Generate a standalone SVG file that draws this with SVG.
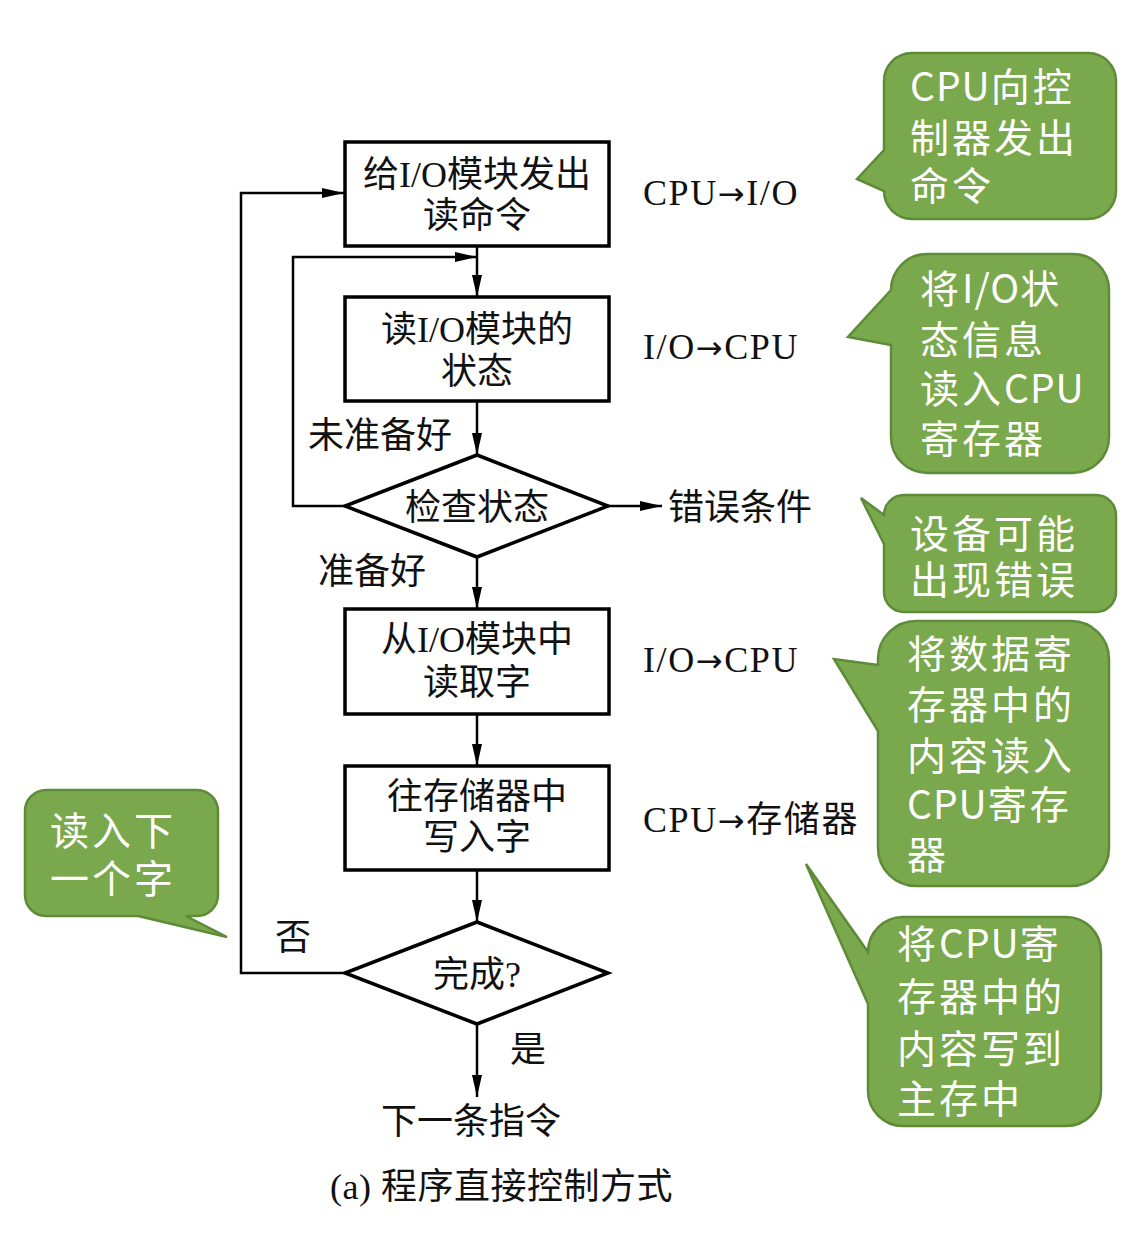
<svg xmlns="http://www.w3.org/2000/svg" width="1129" height="1236" viewBox="0 0 1129 1236">
<defs>
<marker id="ah" markerUnits="userSpaceOnUse" markerWidth="22" markerHeight="10" refX="22" refY="5" orient="auto">
<path d="M0,0 L22,5 L0,10 Z" fill="#000"/>
</marker>
<style>
.box{fill:#fff;stroke:#000;stroke-width:3.5}
.con{fill:none;stroke:#000;stroke-width:2.5}
.t{font-family:"Liberation Serif","Noto Sans CJK SC",serif;font-size:36px;fill:#111}
.tc{text-anchor:middle}
.ls{letter-spacing:1.6px}
.ar{font-family:"DejaVu Sans",sans-serif;font-size:32px}
.co{fill:#7aa84c;stroke:#5d8b37;stroke-width:2.5}
.ct{font-family:"Noto Sans CJK SC",sans-serif;font-size:39px;letter-spacing:3px;fill:#fff}
.cl{letter-spacing:1px}
</style>
</defs>
<rect width="1129" height="1236" fill="#fff"/>

<g id="connectors">
<path class="con" d="M345,973 H241 V193 H344" marker-end="url(#ah)"/>
<path class="con" d="M345,506 H293 V257 H477" marker-end="url(#ah)"/>
<path class="con" d="M477,246 V297" marker-end="url(#ah)"/>
<path class="con" d="M477,401 V455" marker-end="url(#ah)"/>
<path class="con" d="M608,506 H662" marker-end="url(#ah)"/>
<path class="con" d="M477,557 V609" marker-end="url(#ah)"/>
<path class="con" d="M477,714 V766" marker-end="url(#ah)"/>
<path class="con" d="M477,870 V922" marker-end="url(#ah)"/>
<path class="con" d="M477,1024 V1097" marker-end="url(#ah)"/>
</g>

<g id="n1"><rect class="box" x="345" y="142" width="264" height="104"/>
<text class="t tc" x="477" y="187">给I/O模块发出</text><text class="t tc" x="477" y="228">读命令</text></g>
<g id="n2"><rect class="box" x="345" y="297" width="264" height="104"/>
<text class="t tc" x="477" y="342">读I/O模块的</text><text class="t tc" x="477" y="384">状态</text></g>
<g id="n3"><polygon class="box" points="477,455 608,506 477,557 345,506"/>
<text class="t tc" x="477" y="520">检查状态</text></g>
<g id="n4"><rect class="box" x="345" y="609" width="264" height="105"/>
<text class="t tc" x="477" y="652">从I/O模块中</text><text class="t tc" x="477" y="695">读取字</text></g>
<g id="n5"><rect class="box" x="345" y="766" width="264" height="104"/>
<text class="t tc" x="477" y="809">往存储器中</text><text class="t tc" x="477" y="850">写入字</text></g>
<g id="n6"><polygon class="box" points="477,922 608,973 477,1024 345,973"/>
<text class="t tc" x="477" y="987">完成?</text></g>

<g id="labels">
<text class="t" x="308" y="448">未准备好</text>
<text class="t" x="318" y="584">准备好</text>
<text class="t" x="668" y="520">错误条件</text>
<text class="t" x="275" y="950">否</text>
<text class="t" x="510" y="1062">是</text>
<text class="t tc" x="471" y="1134">下一条指令</text>
<text class="t" x="330" y="1199" style="letter-spacing:0.5px">(a) 程序直接控制方式</text>
<text class="t ls" x="643" y="205">CPU<tspan class="ar">→</tspan>I/O</text>
<text class="t ls" x="643" y="359">I/O<tspan class="ar">→</tspan>CPU</text>
<text class="t ls" x="643" y="672">I/O<tspan class="ar">→</tspan>CPU</text>
<text class="t ls" x="643" y="832">CPU<tspan class="ar">→</tspan>存储器</text>
</g>

<g id="c1"><path class="co" d="M912,53 H1088 A28,28 0 0 1 1116,81 V191 A28,28 0 0 1 1088,219 H912 A28,28 0 0 1 884,191 L857,179 L884,150 V81 A28,28 0 0 1 912,53 Z"/>
<text class="ct" x="910" y="101"><tspan class="cl">CPU</tspan>向控</text><text class="ct" x="910" y="152">制器发出</text><text class="ct" x="910" y="200">命令</text></g>

<g id="c2"><path class="co" d="M927,254 H1073 A36,36 0 0 1 1109,290 V437 A36,36 0 0 1 1073,473 H927 A36,36 0 0 1 891,437 V345 L848,337 L891,290 A36,36 0 0 1 927,254 Z"/>
<text class="ct" x="920" y="303">将<tspan class="cl">I/O</tspan>状</text><text class="ct" x="920" y="354">态信息</text><text class="ct" x="920" y="403">读入<tspan class="cl">CPU</tspan></text><text class="ct" x="920" y="453">寄存器</text></g>

<g id="c3"><path class="co" d="M904,495 H1096 A20,20 0 0 1 1116,515 V592 A20,20 0 0 1 1096,612 H904 A20,20 0 0 1 884,592 V544 L861,498 L884,515 A20,20 0 0 1 904,495 Z"/>
<text class="ct" x="910" y="548">设备可能</text><text class="ct" x="910" y="594">出现错误</text></g>

<g id="c4"><path class="co" d="M916,621 H1071 A38,38 0 0 1 1109,659 V848 A38,38 0 0 1 1071,886 H916 A38,38 0 0 1 878,848 V731 L834,659 L878,665 V659 A38,38 0 0 1 916,621 Z"/>
<text class="ct" x="907" y="668">将数据寄</text><text class="ct" x="907" y="719">存器中的</text><text class="ct" x="907" y="770">内容读入</text><text class="ct" x="907" y="819"><tspan class="cl">CPU</tspan>寄存</text><text class="ct" x="907" y="869">器</text></g>

<g id="c5"><path class="co" d="M903,917 H1066 A35,35 0 0 1 1101,952 V1091 A35,35 0 0 1 1066,1126 H903 A35,35 0 0 1 868,1091 V1004 L806,864 L868,952 A35,35 0 0 1 903,917 Z"/>
<text class="ct" x="897" y="958">将<tspan class="cl">CPU</tspan>寄</text><text class="ct" x="897" y="1011">存器中的</text><text class="ct" x="897" y="1063">内容写到</text><text class="ct" x="897" y="1113">主存中</text></g>

<g id="c6"><path class="co" d="M46,790 H197 A21,21 0 0 1 218,811 V895 A21,21 0 0 1 197,916 H186 L227,937 L138,916 H46 A21,21 0 0 1 25,895 V811 A21,21 0 0 1 46,790 Z"/>
<text class="ct" x="50" y="845">读入下</text><text class="ct" x="50" y="893">一个字</text></g>
</svg>
